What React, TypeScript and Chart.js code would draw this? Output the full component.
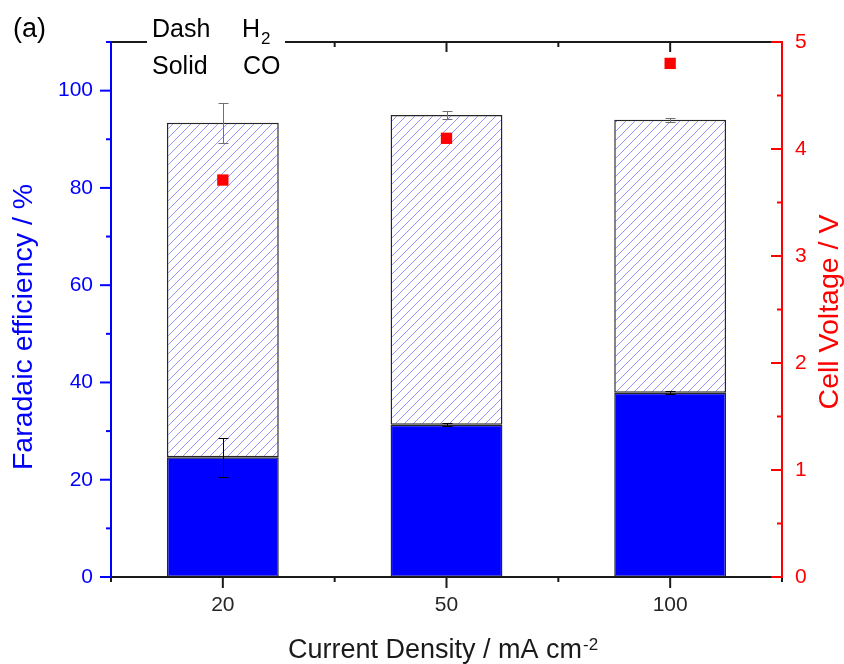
import React, { useEffect, useRef } from 'react';
import { Chart, registerables } from 'chart.js';

Chart.register(...registerables);

const categories = ['20', '50', '100'];
const coFE = [24.6, 31.3, 37.9];
const h2FE = [68.8, 63.7, 56.1];
const coErr = [3.95, 0.3, 0.25];
const totalErr = [4.1, 0.9, 0.4];
const cellVoltage = [3.71, 4.1, 4.8];
const feTicks = [0, 20, 40, 60, 80, 100];
const feMinorTicks = [10, 30, 50, 70, 90, 110];
const vTicks = [0, 1, 2, 3, 4, 5];
const vMinorTicks = [0.5, 1.5, 2.5, 3.5, 4.5];

const FONT = "'Liberation Sans', Arial, Helvetica, sans-serif";
const BLUE = '#0000ff';
const RED = '#ff0000';
const DARK = '#1a1a1a';

function line(ctx: CanvasRenderingContext2D, x1: number, y1: number, x2: number, y2: number) {
  ctx.beginPath();
  ctx.moveTo(x1, y1);
  ctx.lineTo(x2, y2);
  ctx.stroke();
}

const decorPlugin = {
  id: 'decor',
  afterDatasetDraw(chart: any, args: any) {
    if (args.index !== 1) return;
    const ctx: CanvasRenderingContext2D = chart.ctx;
    const xs = chart.scales.x;
    const ys = chart.scales.y;
    const eb = (px: number, v: number, e: number, color: string) => {
      const t = Math.round(ys.getPixelForValue(v + e)) + 0.5;
      const b = Math.round(ys.getPixelForValue(v - e)) + 0.5;
      ctx.strokeStyle = color;
      ctx.lineWidth = 1;
      line(ctx, px, t, px, b);
      line(ctx, px - 5, t, px + 5, t);
      line(ctx, px - 5, b, px + 5, b);
    };
    ctx.save();
    categories.forEach((_, i) => {
      const px = Math.round(xs.getPixelForValue(i)) + 0.5;
      eb(px, coFE[i] + h2FE[i], totalErr[i], '#707070');
      eb(px, coFE[i], coErr[i], '#000000');
    });
    ctx.restore();
  },
  afterDraw(chart: any) {
    const ctx: CanvasRenderingContext2D = chart.ctx;
    const { left, right, top, bottom } = chart.chartArea;
    const xs = chart.scales.x;
    const ys = chart.scales.y;
    const y1 = chart.scales.y1;
    ctx.save();
    ctx.lineWidth = 2;
    ctx.lineCap = 'butt';

    // bottom + top axes (black)
    ctx.strokeStyle = DARK;
    line(ctx, left - 1, bottom, right + 1, bottom);
    line(ctx, left - 1, top, right + 1, top);
    categories.forEach((_, i) => {
      const px = xs.getPixelForValue(i);
      line(ctx, px, bottom, px, bottom + 11);
      line(ctx, px, top, px, top + 10);
    });
    for (let k = 0; k <= categories.length; k++) {
      const bx = xs.getPixelForValue(k - 0.5);
      line(ctx, bx, bottom, bx, bottom + 5);
      line(ctx, bx, top, bx, top + 5);
    }

    // left axis (blue)
    ctx.strokeStyle = BLUE;
    line(ctx, left, top - 1, left, bottom + 1);
    feTicks.forEach((v) => {
      const py = ys.getPixelForValue(v);
      line(ctx, left - 11, py, left, py);
    });
    feMinorTicks.forEach((v) => {
      const py = ys.getPixelForValue(v);
      line(ctx, left - 5, py, left, py);
    });

    // right axis (red)
    ctx.strokeStyle = RED;
    line(ctx, right, top - 1, right, bottom + 1);
    vTicks.forEach((v) => {
      const py = y1.getPixelForValue(v);
      line(ctx, right - 11, py, right, py);
    });
    vMinorTicks.forEach((v) => {
      const py = y1.getPixelForValue(v);
      line(ctx, right - 5, py, right, py);
    });

    // legend box
    ctx.fillStyle = '#ffffff';
    ctx.fillRect(147, 0, 138, 86);
    ctx.fillStyle = '#000000';
    ctx.textAlign = 'left';
    ctx.textBaseline = 'alphabetic';
    ctx.font = `25px ${FONT}`;
    ctx.fillText('Dash', 152, 37);
    ctx.fillText('H', 242, 37);
    const hw = ctx.measureText('H').width;
    ctx.fillText('Solid', 152, 74);
    ctx.fillText('CO', 243, 74);
    ctx.font = `17px ${FONT}`;
    ctx.fillText('2', 242 + hw + 1, 44);

    // panel label
    ctx.font = `27px ${FONT}`;
    ctx.fillText('(a)', 13, 37);

    // axis titles
    ctx.font = `28.5px ${FONT}`;
    ctx.textAlign = 'center';
    ctx.fillStyle = BLUE;
    ctx.save();
    ctx.translate(32, 327);
    ctx.rotate(-Math.PI / 2);
    ctx.fillText('Faradaic efficiency / %', 0, 0);
    ctx.restore();

    ctx.fillStyle = RED;
    ctx.save();
    ctx.translate(838, 312);
    ctx.rotate(-Math.PI / 2);
    ctx.fillText('Cell Voltage / V', 0, 0);
    ctx.restore();

    ctx.fillStyle = DARK;
    ctx.textAlign = 'left';
    const main = 'Current Density / mA cm';
    const sup = '-2';
    ctx.font = `27px ${FONT}`;
    const w1 = ctx.measureText(main).width;
    ctx.font = `17px ${FONT}`;
    const w2 = ctx.measureText(sup).width;
    const sx = 443 - (w1 + w2 + 1) / 2;
    ctx.font = `27px ${FONT}`;
    ctx.fillText(main, sx, 658);
    ctx.font = `17px ${FONT}`;
    ctx.fillText(sup, sx + w1 + 1, 650);

    ctx.restore();
  },
};

export default function App() {
  const ref = useRef<HTMLCanvasElement>(null);

  useEffect(() => {
    const canvas = ref.current!;
    const pc = document.createElement('canvas');
    const S = 9;
    pc.width = S;
    pc.height = S;
    const p = pc.getContext('2d')!;
    p.fillStyle = '#ffffff';
    p.fillRect(0, 0, S, S);
    p.strokeStyle = '#9494ff';
    p.lineWidth = 1;
    p.beginPath();
    p.moveTo(0, S);
    p.lineTo(S, 0);
    p.moveTo(-1, 1);
    p.lineTo(1, -1);
    p.moveTo(S - 1, S + 1);
    p.lineTo(S + 1, S - 1);
    p.stroke();
    const pattern = canvas.getContext('2d')!.createPattern(pc, 'repeat')!;

    Chart.defaults.font.family = FONT;

    const chart = new Chart(canvas, {
      type: 'bar',
      data: {
        labels: categories,
        datasets: [
          {
            type: 'line',
            label: 'Cell Voltage',
            data: cellVoltage,
            yAxisID: 'y1',
            showLine: false,
            pointStyle: 'rect',
            pointRadius: 8,
            pointBackgroundColor: RED,
            pointBorderWidth: 0,
            borderColor: RED,
            order: 0,
          } as any,
          {
            label: 'CO',
            data: coFE,
            yAxisID: 'y',
            backgroundColor: BLUE,
            borderColor: '#262626',
            borderWidth: 1.5,
            borderSkipped: false,
            order: 1,
          },
          {
            label: 'H2',
            data: h2FE,
            yAxisID: 'y',
            backgroundColor: pattern as any,
            borderColor: '#262626',
            borderWidth: 1.5,
            borderSkipped: false,
            order: 1,
          },
        ],
      },
      options: {
        responsive: false,
        devicePixelRatio: 1,
        animation: false,
        layout: { padding: { top: 42, left: 0, right: 0, bottom: 0 } },
        plugins: { legend: { display: false }, tooltip: { enabled: false } },
        datasets: { bar: { barPercentage: 0.5, categoryPercentage: 1 } },
        scales: {
          x: {
            stacked: true,
            grid: { display: false, drawTicks: false },
            border: { display: false },
            ticks: { color: '#262626', font: { size: 21 }, padding: 16 },
            afterFit: (s: any) => {
              s.height = 87;
            },
          },
          y: {
            stacked: true,
            position: 'left',
            min: 0,
            max: 110,
            grid: { display: false, drawTicks: false },
            border: { display: false },
            ticks: { color: BLUE, font: { size: 21 }, padding: 18 },
            afterBuildTicks: (s: any) => {
              s.ticks = feTicks.map((v) => ({ value: v }));
            },
            afterFit: (s: any) => {
              s.width = 111;
            },
          },
          y1: {
            position: 'right',
            min: 0,
            max: 5,
            grid: { display: false, drawTicks: false },
            border: { display: false },
            ticks: { color: RED, font: { size: 21 }, padding: 13 },
            afterBuildTicks: (s: any) => {
              s.ticks = vTicks.map((v) => ({ value: v }));
            },
            afterFit: (s: any) => {
              s.width = 62;
            },
          },
        },
      } as any,
      plugins: [decorPlugin as any],
    });
    return () => chart.destroy();
  }, []);

  return (
    <div style={{ position: 'absolute', left: 0, top: 0, width: 844, height: 664 }}>
      <canvas ref={ref} width={844} height={664} style={{ display: 'block' }} />
    </div>
  );
}
